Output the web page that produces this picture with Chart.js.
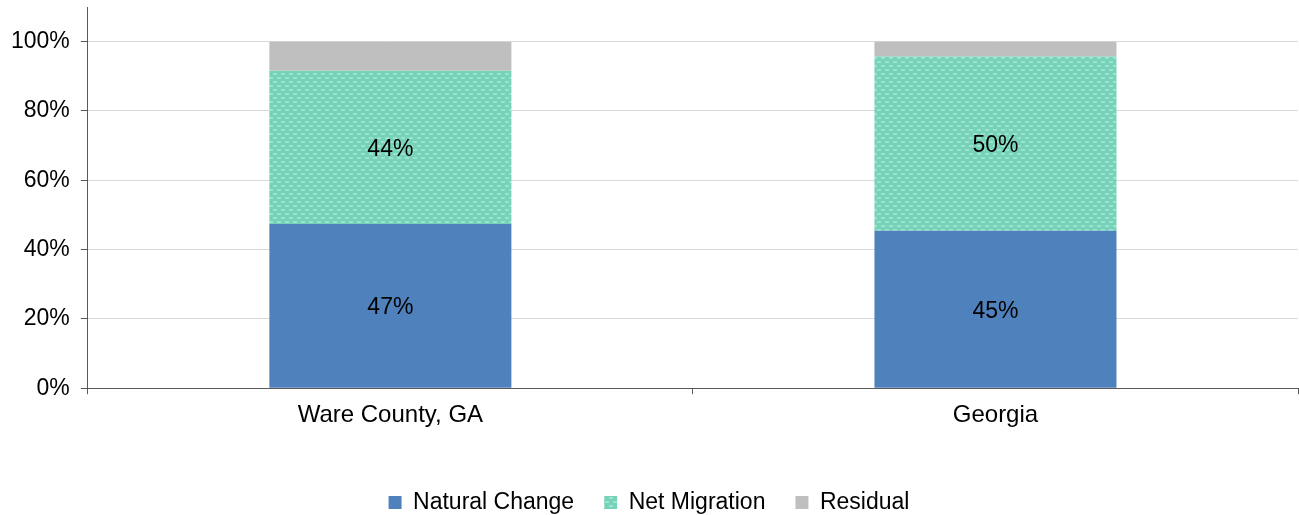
<!DOCTYPE html>
<html>
<head>
<meta charset="utf-8">
<script src="https://cdn.jsdelivr.net/npm/chart.js@4.4.0/dist/chart.umd.min.js"></script>
<style>
  html, body { margin: 0; padding: 0; background: #fff; }
  #wrap { width: 1299px; height: 515px; }
</style>
</head>
<body>
<div id="wrap"><canvas id="chart"></canvas></div>
<script>
// data
const categories = ['Ware County, GA', 'Georgia'];
const seriesNames = ['Natural Change', 'Net Migration', 'Residual'];
const naturalChange = [47.4, 45.4];
const netMigration = [44.2, 50.3];
const residual = [8.4, 4.3];
const yTicks = [0, 20, 40, 60, 80, 100];

// dotted fill for net migration
function makePattern() {
    const c = document.createElement('canvas');
    c.width = 8; c.height = 8;
    const g = c.getContext('2d');
    g.fillStyle = '#76d3b9';
    g.fillRect(0, 0, 8, 8);
    g.fillStyle = '#9ce2cd';
    g.fillRect(1, 1, 4, 2);
    g.fillRect(5, 5, 4, 2);
    g.fillRect(-3, 5, 4, 2);
    return g.createPattern(c, 'repeat');
}
const migrationFill = makePattern();

// % labels in the middle of the first two segments
const labelPlugin = {
    id: 'barLabels',
    afterDatasetsDraw(chart) {
        const ctx = chart.ctx;
        ctx.save();
        ctx.font = '23px "Liberation Sans", Arial, sans-serif';
        ctx.fillStyle = '#000';
        ctx.textAlign = 'center';
        ctx.textBaseline = 'middle';
        [0, 1].forEach(di => {
            const meta = chart.getDatasetMeta(di);
            meta.data.forEach((bar, i) => {
                const v = chart.data.datasets[di].data[i];
                const p = bar.getProps(['x', 'y', 'base'], true);
                ctx.fillText(Math.round(v) + '%', p.x, (p.y + p.base) / 2 + 2);
            });
        });
        ctx.restore();
    }
};

const font = { family: '"Liberation Sans", Arial, sans-serif', size: 23 };

new Chart(document.getElementById('chart').getContext('2d'), {
    type: 'bar',
    data: {
        labels: categories,
        datasets: [
            { label: seriesNames[0], data: naturalChange, backgroundColor: '#4f81bd' },
            { label: seriesNames[1], data: netMigration, backgroundColor: migrationFill },
            { label: seriesNames[2], data: residual, backgroundColor: '#bfbfbf' }
        ]
    },
    options: {
        responsive: true,
        maintainAspectRatio: false,
        animation: false,
        layout: { padding: { top: 7, right: 1, left: 0, bottom: -9 } },
        datasets: { bar: { barPercentage: 0.4, categoryPercentage: 1 } },
        plugins: {
            legend: {
                position: 'bottom',
                labels: { font: font, color: '#000', boxWidth: 13, boxHeight: 13, padding: 30 }
            },
            tooltip: { enabled: false }
        },
        scales: {
            x: {
                stacked: true,
                border: { color: '#595959', width: 1 },
                grid: { drawOnChartArea: false, color: '#595959', tickLength: 6, offset: true },
                ticks: { font: { family: font.family, size: 24 }, color: '#000', padding: 7 },
                afterFit: scale => { scale.height += 24; }
            },
            y: {
                stacked: true,
                min: 0,
                max: 110,
                afterBuildTicks: scale => {
                    scale.ticks = yTicks.map(v => ({ value: v }));
                },
                afterFit: scale => { scale.paddingTop = 0; scale.paddingBottom = 0; },
                border: { color: '#595959', width: 1 },
                grid: { color: '#d9d9d9', tickColor: '#595959', tickLength: 7 },
                ticks: { font: font, color: '#000', padding: 11, callback: v => v + '%' }
            }
        }
    },
    plugins: [labelPlugin]
});
</script>
</body>
</html>
